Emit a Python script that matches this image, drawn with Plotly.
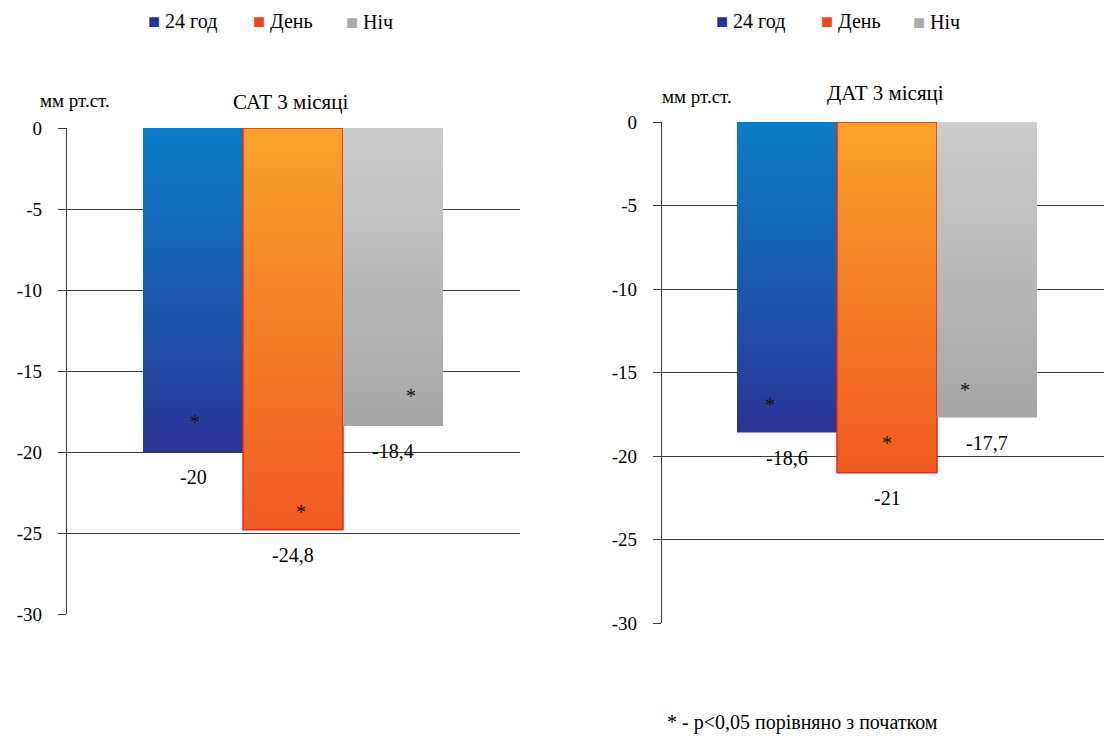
import plotly.graph_objects as go

# Blood pressure reduction after 3 months, mm Hg
series_names = ["24 год", "День", "Ніч"]
sat_values = [-20, -24.8, -18.4]
dat_values = [-18.6, -21, -17.7]
sat_labels = ["-20", "-24,8", "-18,4"]
dat_labels = ["-18,6", "-21", "-17,7"]
significant_sat = [True, True, True]
significant_dat = [True, True, True]
tick_values = [0, -5, -10, -15, -20, -25, -30]
tick_labels = ["0", "-5", "-10", "-15", "-20", "-25", "-30"]

SERIF = "Liberation Serif, serif"

# vertical gradients (bottom -> top) and legend swatch colours per series
gradients = [
    [[0, "#2b3494"], [0.5, "#1a5cb0"], [1, "#0a7dc8"]],
    [[0, "#f05a22"], [0.5, "#f47d26"], [1, "#f8a32a"]],
    [[0, "#a6a6a6"], [1, "#cccccc"]],
]
edge_colors = ["rgba(0,0,0,0)", "#e8261c", "rgba(0,0,0,0)"]
swatch = ["#24339a", "#f0441c", "#aaaaaa"]
star_dx = [[0.02, 0.08, 0.18], [-0.17, 0.0, -0.22]]
star_shift = [[30, 18, 30], [28, 30, 28]]

# legend rows: left edge (px) of each entry per panel
legend_x = [[146, 251, 344], [714, 819, 911]]
legend_y = 22

fig = go.Figure()

panels = [
    dict(values=sat_values, labels=sat_labels, sig=significant_sat, xa="x", ya="y"),
    dict(values=dat_values, labels=dat_labels, sig=significant_dat, xa="x2", ya="y2"),
]

annotations = []
for p_i, p in enumerate(panels):
    for i, (name, v) in enumerate(zip(series_names, p["values"])):
        # bar i occupies one unit centred on i, from 0 down to the value
        xs = [i - 0.5, i + 0.5, i + 0.5, i - 0.5, i - 0.5]
        ys = [0, 0, v, v, 0]
        fig.add_trace(go.Scatter(
            x=xs, y=ys, mode="lines", fill="toself",
            fillgradient=dict(type="vertical", colorscale=gradients[i]),
            line=dict(color=edge_colors[i], width=1.5 if i == 1 else 0),
            name=name, showlegend=False, hoverinfo="skip",
            xaxis=p["xa"], yaxis=p["ya"],
        ))
        # value label under the bar end
        annotations.append(dict(
            x=i, y=v, xref=p["xa"], yref=p["ya"], text=p["labels"][i],
            showarrow=False, yshift=-25, font=dict(family=SERIF, size=20, color="#000"),
        ))
        if p["sig"][i]:
            annotations.append(dict(
                x=i + star_dx[p_i][i], y=v, xref=p["xa"], yref=p["ya"], text="*",
                showarrow=False, yshift=star_shift[p_i][i],
                font=dict(family=SERIF, size=20, color="#111"),
            ))
    # legend entries: coloured square plus series name
    for i, name in enumerate(series_names):
        annotations.append(dict(
            x=legend_x[p_i][i] / 1104, y=1 - legend_y / 736, xref="paper", yref="paper",
            text=f"<span style='color:{swatch[i]}'>■</span> {name}",
            showarrow=False, xanchor="left", yanchor="middle",
            font=dict(family=SERIF, size=20, color="#000"),
        ))

axis_y = dict(
    range=[-30, 0], tickvals=tick_values, ticktext=tick_labels,
    showgrid=True, gridcolor="#3a3a3a", gridwidth=1, zeroline=False,
    showline=True, linecolor="#3a3a3a", linewidth=1.3,
    ticks="outside", ticklen=8, tickcolor="#3a3a3a", ticklabelstandoff=12,
    tickfont=dict(family=SERIF, size=19, color="#000"),
)
axis_x = dict(showgrid=False, zeroline=False, showticklabels=False, showline=False, ticks="")

fig.update_layout(
    width=1104, height=736,
    font=dict(family=SERIF, color="#000"),
    margin=dict(l=0, r=0, t=0, b=0, autoexpand=False),
    paper_bgcolor="white", plot_bgcolor="white",
    showlegend=False,
    xaxis=dict(axis_x, domain=[67 / 1104, 520 / 1104], range=[-1.26, 3.27]),
    yaxis=dict(axis_y, domain=[(736 - 614) / 736, (736 - 128) / 736], anchor="x"),
    xaxis2=dict(axis_x, domain=[662 / 1104, 1.0], range=[-1.25, 3.17]),
    yaxis2=dict(axis_y, domain=[(736 - 623) / 736, (736 - 122) / 736], anchor="x2"),
)

texts = [
    ("мм рт.ст.", 75, 100, 19),
    ("САТ 3 місяці", 290, 102, 21),
    ("мм рт.ст.", 697, 96, 19),
    ("ДАТ 3 місяці", 885, 93, 21),
    ("* - p<0,05 порівняно з початком", 802, 722, 20),
]
for t, px, py, size in texts:
    annotations.append(dict(
        x=px / 1104, y=1 - py / 736, xref="paper", yref="paper", text=t,
        showarrow=False, xanchor="center", yanchor="middle",
        font=dict(family=SERIF, size=size, color="#000"),
    ))

fig.update_layout(annotations=annotations)
fig.write_html("out.html")
